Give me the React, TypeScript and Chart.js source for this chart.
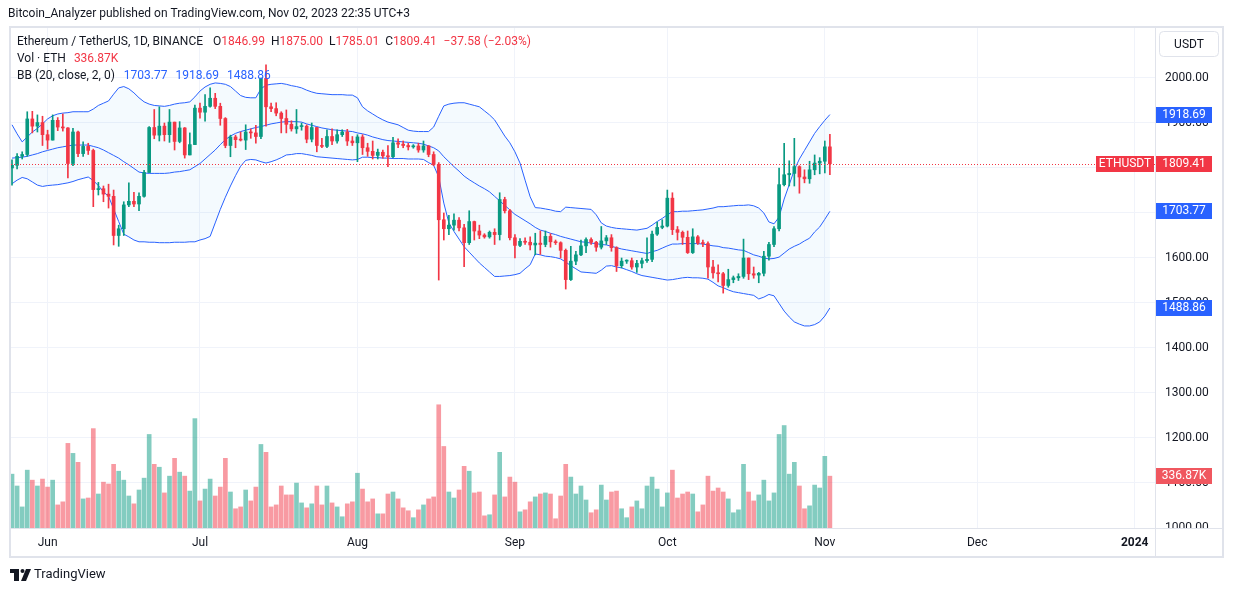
import React, { useEffect, useRef } from 'react';
import { Chart, registerables } from 'chart.js';

Chart.register(...registerables);

// ---------- data (ETH/USDT daily, 2023-05-25 .. 2023-11-02) ----------
const firstDay = '2023-05-25';
const opens = [
  1800, 1806, 1826, 1830, 1909, 1893, 1901, 1874, 1862, 1906,
  1891, 1889, 1810, 1880, 1832, 1848, 1839, 1752, 1754, 1742,
  1737, 1650, 1665, 1718, 1726, 1720, 1737, 1790, 1890, 1873,
  1893, 1874, 1902, 1859, 1889, 1829, 1852, 1933, 1924, 1937,
  1955, 1937, 1910, 1850, 1869, 1863, 1862, 1880, 1878, 1870,
  1999, 1936, 1932, 1922, 1910, 1897, 1887, 1892, 1893, 1864,
  1890, 1850, 1848, 1870, 1860, 1874, 1880, 1860, 1856, 1869,
  1845, 1837, 1828, 1835, 1827, 1825, 1856, 1853, 1850, 1847,
  1849, 1840, 1849, 1830, 1808, 1685, 1665, 1673, 1684, 1667,
  1634, 1681, 1660, 1651, 1647, 1657, 1652, 1730, 1705, 1645,
  1628, 1637, 1635, 1629, 1633, 1630, 1648, 1636, 1634, 1617,
  1552, 1593, 1607, 1627, 1641, 1635, 1624, 1638, 1645, 1623,
  1583, 1593, 1594, 1580, 1588, 1594, 1597, 1653, 1668, 1671,
  1733, 1663, 1657, 1646, 1612, 1647, 1633, 1632, 1580, 1567,
  1565, 1539, 1552, 1556, 1559, 1600, 1565, 1562, 1566, 1604,
  1630, 1665, 1763, 1785, 1788, 1803, 1780, 1776, 1796, 1811,
  1815, 1846.99,
];
const highs = [
  1818, 1832, 1836, 1925, 1926, 1918, 1915, 1884, 1918, 1912,
  1920, 1890, 1888, 1882, 1858, 1855, 1842, 1768, 1760, 1764,
  1751, 1673, 1725, 1767, 1746, 1745, 1795, 1892, 1930, 1936,
  1900, 1930, 1902, 1903, 1890, 1878, 1940, 1944, 1963, 1978,
  1966, 1944, 1912, 1873, 1873, 1880, 1896, 1887, 1895, 2000,
  2029, 1944, 1945, 1925, 1929, 1905, 1930, 1900, 1896, 1900,
  1890, 1866, 1885, 1887, 1885, 1885, 1886, 1870, 1874, 1874,
  1855, 1860, 1842, 1840, 1850, 1868, 1865, 1860, 1855, 1852,
  1855, 1860, 1850, 1836, 1812, 1700, 1695, 1698, 1690, 1675,
  1705, 1682, 1673, 1654, 1660, 1665, 1745, 1735, 1708, 1652,
  1643, 1645, 1647, 1655, 1660, 1660, 1654, 1640, 1636, 1620,
  1626, 1615, 1640, 1645, 1645, 1637, 1670, 1650, 1652, 1625,
  1600, 1596, 1600, 1595, 1600, 1645, 1660, 1680, 1685, 1751,
  1745, 1670, 1660, 1660, 1665, 1650, 1640, 1636, 1595, 1585,
  1568, 1575, 1560, 1565, 1642, 1600, 1580, 1568, 1615, 1635,
  1670, 1800, 1855, 1816, 1866, 1805, 1796, 1815, 1829, 1823,
  1860, 1875.0,
];
const lows = [
  1762, 1798, 1820, 1826, 1878, 1880, 1850, 1842, 1862, 1883,
  1882, 1778, 1805, 1825, 1826, 1830, 1714, 1740, 1725, 1711,
  1629, 1626, 1650, 1714, 1714, 1705, 1735, 1790, 1865, 1860,
  1860, 1857, 1840, 1856, 1822, 1829, 1852, 1911, 1904, 1935,
  1932, 1895, 1845, 1825, 1845, 1860, 1841, 1866, 1855, 1865,
  1893, 1925, 1916, 1878, 1878, 1882, 1877, 1884, 1856, 1858,
  1836, 1845, 1845, 1852, 1855, 1870, 1850, 1850, 1814, 1830,
  1826, 1820, 1820, 1822, 1803, 1823, 1845, 1845, 1840, 1844,
  1835, 1835, 1825, 1805, 1551, 1640, 1652, 1662, 1660, 1581,
  1630, 1640, 1643, 1644, 1644, 1630, 1640, 1700, 1640, 1600,
  1625, 1630, 1618, 1607, 1608, 1625, 1624, 1630, 1600, 1531,
  1550, 1585, 1605, 1612, 1630, 1615, 1620, 1630, 1615, 1570,
  1578, 1588, 1575, 1568, 1578, 1590, 1592, 1650, 1665, 1669,
  1652, 1640, 1630, 1610, 1610, 1630, 1625, 1555, 1555, 1547,
  1522, 1535, 1545, 1550, 1555, 1552, 1555, 1545, 1560, 1595,
  1625, 1660, 1760, 1760, 1760, 1744, 1767, 1766, 1785, 1787,
  1789, 1785.01,
];
const closes = [
  1806, 1826, 1830, 1909, 1893, 1901, 1874, 1862, 1906, 1891,
  1889, 1810, 1880, 1832, 1848, 1839, 1752, 1754, 1742, 1737,
  1650, 1665, 1718, 1726, 1720, 1737, 1790, 1890, 1873, 1893,
  1874, 1902, 1859, 1889, 1829, 1852, 1933, 1924, 1937, 1955,
  1937, 1910, 1850, 1869, 1863, 1862, 1880, 1878, 1870, 1999,
  1936, 1932, 1922, 1910, 1897, 1887, 1892, 1893, 1864, 1890,
  1850, 1848, 1870, 1860, 1874, 1880, 1860, 1856, 1869, 1845,
  1837, 1828, 1835, 1827, 1825, 1856, 1853, 1850, 1847, 1849,
  1840, 1849, 1830, 1808, 1685, 1665, 1673, 1684, 1667, 1634,
  1681, 1660, 1651, 1647, 1657, 1652, 1730, 1705, 1645, 1628,
  1637, 1635, 1629, 1633, 1630, 1648, 1636, 1634, 1617, 1552,
  1593, 1607, 1627, 1641, 1635, 1624, 1638, 1645, 1623, 1583,
  1593, 1594, 1580, 1588, 1594, 1597, 1653, 1668, 1671, 1733,
  1663, 1657, 1646, 1612, 1647, 1633, 1632, 1580, 1567, 1565,
  1539, 1552, 1556, 1559, 1600, 1565, 1562, 1566, 1604, 1630,
  1665, 1763, 1785, 1788, 1803, 1780, 1776, 1796, 1811, 1815,
  1846.99, 1809.41,
];
// volume in thousands of ETH
const volumesK = [
  350, 273, 137, 376, 311, 273, 318, 266, 311, 150,
  170, 550, 485, 427, 189, 195, 646, 221, 298, 286,
  414, 369, 311, 208, 157, 247, 324, 608, 414, 395,
  228, 337, 453, 363, 337, 240, 711, 176, 253, 318,
  208, 266, 453, 234, 125, 137, 247, 176, 266, 543,
  492, 137, 150, 273, 215, 215, 292, 163, 131, 157,
  273, 150, 273, 163, 137, 73, 157, 170, 356, 253,
  170, 189, 92, 92, 221, 234, 189, 131, 112, 67,
  118, 150, 189, 202, 801, 530, 234, 195, 247, 401,
  369, 228, 234, 79, 86, 215, 492, 202, 331, 298,
  105, 118, 170, 202, 221, 228, 221, 60, 208, 414,
  331, 221, 273, 182, 99, 118, 279, 182, 234, 240,
  125, 67, 137, 176, 125, 273, 331, 253, 137, 228,
  376, 195, 221, 234, 221, 105, 150, 337, 240, 260,
  234, 189, 99, 118, 414, 234, 176, 215, 311, 176,
  228, 608, 666, 350, 427, 273, 125, 144, 279, 260,
  466, 336.87,
];
// Bollinger Bands (20, close, 2, 0)
const bbUpper = [
  1896, 1876, 1858, 1869, 1880, 1888, 1898, 1909, 1916, 1920,
  1922, 1923, 1925, 1925, 1925, 1925, 1931, 1939, 1944, 1949,
  1964, 1978, 1981, 1976, 1967, 1956, 1947, 1942, 1939, 1938,
  1937, 1939, 1942, 1944, 1945, 1947, 1958, 1971, 1980, 1986,
  1989, 1988, 1986, 1981, 1971, 1961, 1957, 1956, 1956, 1976,
  1984, 1986, 1987, 1988, 1986, 1983, 1981, 1978, 1973, 1969,
  1966, 1965, 1964, 1963, 1963, 1963, 1962, 1962, 1956, 1936,
  1927, 1920, 1913, 1907, 1902, 1899, 1896, 1890, 1884, 1882,
  1881, 1881, 1881, 1891, 1915, 1938, 1942, 1944, 1945, 1945,
  1942, 1939, 1936, 1927, 1918, 1907, 1889, 1871, 1856, 1836,
  1811, 1773, 1736, 1712, 1711, 1709, 1707, 1704, 1703, 1713,
  1712, 1711, 1710, 1709, 1708, 1696, 1678, 1671, 1668, 1666,
  1665, 1664, 1663, 1662, 1664, 1666, 1673, 1681, 1688, 1696,
  1703, 1703, 1704, 1704, 1705, 1706, 1707, 1709, 1711, 1714,
  1714, 1715, 1716, 1717, 1717, 1718, 1716, 1711, 1700, 1680,
  1676, 1691, 1731, 1763, 1796, 1820, 1839, 1858, 1877, 1892,
  1906, 1918.69,
];
const bbBasis = [
  1822, 1823, 1824, 1826, 1829, 1832, 1836, 1839, 1842, 1845,
  1847, 1849, 1851, 1851, 1851, 1851, 1848, 1845, 1840, 1834,
  1828, 1822, 1814, 1807, 1799, 1791, 1789, 1788, 1788, 1788,
  1788, 1789, 1791, 1792, 1794, 1796, 1803, 1810, 1820, 1830,
  1840, 1852, 1863, 1871, 1877, 1881, 1884, 1887, 1890, 1892,
  1895, 1898, 1900, 1902, 1903, 1903, 1903, 1902, 1898, 1895,
  1892, 1889, 1887, 1885, 1884, 1883, 1882, 1881, 1878, 1876,
  1873, 1869, 1866, 1863, 1861, 1860, 1859, 1858, 1857, 1856,
  1855, 1853, 1849, 1845, 1838, 1825, 1814, 1803, 1793, 1782,
  1774, 1767, 1760, 1754, 1747, 1737, 1727, 1717, 1707, 1697,
  1690, 1683, 1676, 1668, 1662, 1659, 1655, 1652, 1648, 1645,
  1642, 1639, 1636, 1635, 1633, 1632, 1630, 1629, 1626, 1623,
  1620, 1618, 1616, 1614, 1612, 1610, 1614, 1617, 1622, 1627,
  1631, 1631, 1632, 1632, 1632, 1632, 1631, 1629, 1627, 1626,
  1623, 1622, 1620, 1618, 1617, 1612, 1607, 1604, 1600, 1598,
  1599, 1602, 1611, 1620, 1626, 1631, 1638, 1644, 1658, 1669,
  1686, 1703.77,
];
const bbLower = [
  1765, 1773, 1779, 1776, 1769, 1762, 1759, 1761, 1762, 1763,
  1765, 1767, 1770, 1774, 1777, 1780, 1772, 1761, 1747, 1737,
  1709, 1681, 1653, 1647, 1640, 1636, 1636, 1635, 1635, 1634,
  1634, 1634, 1635, 1635, 1635, 1636, 1636, 1640, 1643, 1648,
  1678, 1708, 1735, 1760, 1783, 1804, 1817, 1819, 1818, 1814,
  1811, 1814, 1818, 1823, 1829, 1830, 1832, 1832, 1830, 1828,
  1825, 1824, 1823, 1822, 1821, 1820, 1819, 1818, 1819, 1824,
  1824, 1823, 1823, 1822, 1822, 1821, 1821, 1821, 1820, 1820,
  1820, 1819, 1812, 1806, 1780, 1722, 1678, 1659, 1642, 1625,
  1613, 1601, 1589, 1579, 1569, 1559, 1559, 1560, 1561, 1563,
  1566, 1576, 1585, 1609, 1607, 1604, 1603, 1601, 1598, 1591,
  1583, 1576, 1569, 1568, 1567, 1566, 1573, 1582, 1583, 1580,
  1578, 1574, 1570, 1565, 1561, 1559, 1557, 1555, 1553, 1551,
  1552, 1554, 1556, 1557, 1556, 1556, 1555, 1553, 1546, 1538,
  1534, 1529, 1525, 1523, 1521, 1519, 1517, 1509, 1513, 1519,
  1516, 1499, 1482, 1469, 1458, 1453, 1449, 1449, 1452, 1458,
  1471, 1488.86,
];
const priceTicks = [1000, 1100, 1200, 1300, 1400, 1500, 1600, 1700, 1800, 1900, 2000];
// day offsets from firstDay of month starts
const monthTickDays = [7, 37, 68, 99, 129, 160, 190, 221];
const monthTickLabels = ['Jun', 'Jul', 'Aug', 'Sep', 'Oct', 'Nov', 'Dec', '2024'];
const headerText = 'Bitcoin_Analyzer published on TradingView.com, Nov 02, 2023 22:35 UTC+3';
const symbolTitle = 'Ethereum / TetherUS, 1D, BINANCE';
const symbolShort = 'ETHUSDT';
const volumeTitle = 'Vol · ETH';
const bbTitle = 'BB (20, close, 2, 0)';
const currency = 'USDT';

// ---------- styles ----------
const FONT = 'Roboto, "Noto Sans", "Liberation Sans", Arial, sans-serif';
const UP = '#089981';
const DOWN = '#F23645';
const UP_VOL = 'rgba(8, 153, 129, 0.5)';
const DOWN_VOL = 'rgba(242, 54, 69, 0.5)';
const BB_BLUE = '#2962FF';
const TEXT = '#131722';
const GRID = '#f0f3fa';
const FRAME = '#e0e3eb';

const fmt2 = (v: number) => v.toFixed(2).replace('-', '\u2212');

const overlayPlugin = {
  id: 'tvOverlay',
  beforeDraw(chart: any) {
    const ctx = chart.ctx;
    ctx.save();
    ctx.fillStyle = '#ffffff';
    ctx.fillRect(0, 0, chart.width, chart.height);
    ctx.restore();
  },
  afterDatasetsDraw(chart: any) {
    const ctx = chart.ctx;
    const y = chart.scales.y;
    const area = chart.chartArea;
    const n = closes.length - 1;
    const py = Math.round(y.getPixelForValue(closes[n])) + 0.5;
    ctx.save();
    ctx.strokeStyle = DOWN;
    ctx.lineWidth = 1;
    ctx.setLineDash([1, 2]);
    ctx.beginPath();
    ctx.moveTo(area.left, py);
    ctx.lineTo(area.right, py);
    ctx.stroke();
    ctx.restore();
  },
  afterDraw(chart: any) {
    const ctx = chart.ctx;
    const ys = chart.scales.y;
    const vs = chart.scales.vol;
    const area = chart.chartArea;
    const n = closes.length - 1;
    ctx.save();

    // cover lower half of bottom price tick (clipped by time axis)
    ctx.fillStyle = '#ffffff';
    ctx.fillRect(area.right + 1, area.bottom + 1, 70, 30);

    // frame
    ctx.fillStyle = FRAME;
    ctx.fillRect(9, 26, 1215, 2);
    ctx.fillRect(9, 556, 1215, 2);
    ctx.fillRect(9, 26, 2, 532);
    ctx.fillRect(1222, 26, 2, 532);
    ctx.fillRect(area.right, 28, 1, 528);
    ctx.fillRect(11, area.bottom, 1211, 1);

    // header
    ctx.textBaseline = 'middle';
    ctx.textAlign = 'left';
    ctx.fillStyle = TEXT;
    ctx.font = `12px ${FONT}`;
    ctx.fillText(headerText, 8, 14);

    // legend
    const drawSegs = (x: number, yy: number, segs: Array<[string, string, number]>) => {
      for (const [t, c, gap] of segs) {
        ctx.fillStyle = c;
        ctx.fillText(t, x, yy);
        x += ctx.measureText(t).width + gap;
      }
    };
    ctx.font = `12px ${FONT}`;
    const chg = closes[n] - opens[n];
    const pct = (chg / opens[n]) * 100;
    const lastColor = chg >= 0 ? UP : DOWN;
    drawSegs(17, 42, [
      [symbolTitle, TEXT, 10],
      ['O', TEXT, 0], [fmt2(opens[n]), lastColor, 6],
      ['H', TEXT, 0], [fmt2(highs[n]), lastColor, 6],
      ['L', TEXT, 0], [fmt2(lows[n]), lastColor, 6],
      ['C', TEXT, 0], [fmt2(closes[n]), lastColor, 7],
      [`${fmt2(chg)} (${fmt2(pct)}%)`, lastColor, 0],
    ]);
    drawSegs(17, 59, [
      [volumeTitle, TEXT, 8],
      [`${volumesK[n].toFixed(2)}K`, lastColor, 0],
    ]);
    drawSegs(17, 76, [
      [bbTitle, TEXT, 9],
      [fmt2(bbBasis[n]), BB_BLUE, 8],
      [fmt2(bbUpper[n]), BB_BLUE, 8],
      [fmt2(bbLower[n]), BB_BLUE, 0],
    ]);

    // price-scale labels
    const box = (x: number, cy: number, w: number, color: string, text: string) => {
      ctx.fillStyle = color;
      ctx.fillRect(x, Math.round(cy) - 8, w, 16);
      ctx.fillStyle = '#ffffff';
      ctx.textAlign = 'center';
      ctx.fillText(text, x + w / 2, Math.round(cy));
      ctx.textAlign = 'left';
    };
    ctx.font = `12px ${FONT}`;
    const axX = area.right + 1;
    box(axX, ys.getPixelForValue(bbUpper[n]), 56, BB_BLUE, fmt2(bbUpper[n]));
    box(axX, ys.getPixelForValue(bbBasis[n]), 56, BB_BLUE, fmt2(bbBasis[n]));
    box(axX, ys.getPixelForValue(bbLower[n]), 56, BB_BLUE, fmt2(bbLower[n]));
    box(axX, vs.getPixelForValue(volumesK[n]), 56, '#f0575f', `${volumesK[n].toFixed(2)}K`);
    const cy = ys.getPixelForValue(closes[n]);
    box(axX, cy, 56, lastColor, fmt2(closes[n]));
    box(area.right - 59, cy, 58, lastColor, symbolShort);

    // currency button
    ctx.strokeStyle = FRAME;
    ctx.lineWidth = 1;
    ctx.beginPath();
    (ctx as any).roundRect(1159.5, 31.5, 59, 25, 4);
    ctx.stroke();
    ctx.fillStyle = TEXT;
    ctx.textAlign = 'center';
    ctx.fillText(currency, 1189, 44.5);
    ctx.textAlign = 'left';

    // TradingView logo
    ctx.fillStyle = TEXT;
    ctx.fillRect(10, 569, 9, 4);
    ctx.fillRect(14, 569, 5, 12);
    ctx.beginPath();
    ctx.arc(22.5, 571, 2, 0, Math.PI * 2);
    ctx.fill();
    ctx.beginPath();
    ctx.moveTo(26, 569);
    ctx.lineTo(31, 569);
    ctx.lineTo(26, 581);
    ctx.lineTo(21, 581);
    ctx.closePath();
    ctx.fill();
    ctx.font = `13px ${FONT}`;
    ctx.fillText('TradingView', 34, 575);

    ctx.restore();
  },
};

export default function App() {
  const ref = useRef<HTMLCanvasElement | null>(null);

  useEffect(() => {
    if (!ref.current) return;
    const idx = closes.map((_, i) => i);
    const up = idx.map((i) => closes[i] >= opens[i]);
    const candleColors = up.map((u) => (u ? UP : DOWN));
    const volColors = up.map((u) => (u ? UP_VOL : DOWN_VOL));

    const chart = new Chart(ref.current, {
      type: 'bar',
      data: {
        datasets: [
          {
            type: 'bar',
            label: 'body',
            data: idx.map((i) => ({ x: i, y: [opens[i], closes[i]] })),
            backgroundColor: candleColors,
            barThickness: 3,
            grouped: false,
            minBarLength: 1,
            borderWidth: 0,
            borderSkipped: false,
            yAxisID: 'y',
            order: 0,
          } as any,
          {
            type: 'bar',
            label: 'wick',
            data: idx.map((i) => ({ x: i, y: [lows[i], highs[i]] })),
            backgroundColor: candleColors,
            barThickness: 1,
            grouped: false,
            borderWidth: 0,
            borderSkipped: false,
            yAxisID: 'y',
            order: 1,
          } as any,
          {
            type: 'line',
            label: 'upper',
            data: idx.map((i) => ({ x: i, y: bbUpper[i] })),
            borderColor: BB_BLUE,
            borderWidth: 1,
            pointRadius: 0,
            tension: 0,
            fill: false,
            yAxisID: 'y',
            order: 2,
          } as any,
          {
            type: 'line',
            label: 'basis',
            data: idx.map((i) => ({ x: i, y: bbBasis[i] })),
            borderColor: BB_BLUE,
            borderWidth: 1,
            pointRadius: 0,
            tension: 0,
            fill: false,
            yAxisID: 'y',
            order: 2,
          } as any,
          {
            type: 'line',
            label: 'lower',
            data: idx.map((i) => ({ x: i, y: bbLower[i] })),
            borderColor: BB_BLUE,
            borderWidth: 1,
            pointRadius: 0,
            tension: 0,
            fill: '-2',
            backgroundColor: 'rgba(33, 150, 243, 0.05)',
            yAxisID: 'y',
            order: 2,
          } as any,
          {
            type: 'bar',
            label: 'volume',
            data: idx.map((i) => ({ x: i, y: volumesK[i] })),
            backgroundColor: volColors,
            barThickness: 4,
            grouped: false,
            borderWidth: 0,
            yAxisID: 'vol',
            order: 3,
          } as any,
        ],
      },
      options: {
        responsive: false,
        animation: false,
        devicePixelRatio: 1,
        events: [],
        layout: { padding: { left: 11, top: 28, right: 11, bottom: 36 } },
        plugins: { legend: { display: false }, tooltip: { enabled: false } },
        scales: {
          x: {
            type: 'linear',
            position: 'bottom',
            min: -0.2,
            max: 225,
            offset: false,
            grid: { color: GRID, drawTicks: false, offset: false },
            border: { display: false },
            afterBuildTicks: (s: any) => {
              s.ticks = monthTickDays.map((v) => ({ value: v }));
            },
            afterFit: (s: any) => {
              s.height = 28;
              s.paddingLeft = 0;
              s.paddingRight = 0;
            },
            ticks: {
              autoSkip: false,
              maxRotation: 0,
              padding: 8,
              color: TEXT,
              font: (c: any) => ({
                family: FONT,
                size: 12,
                weight: c.index === monthTickLabels.length - 1 ? 'bold' : 'normal',
              }),
              callback: (_v: any, i: number) => monthTickLabels[i],
            },
          },
          y: {
            type: 'linear',
            position: 'right',
            min: 1000,
            max: 2111.11,
            grid: { color: GRID, drawTicks: false },
            border: { display: false },
            afterBuildTicks: (s: any) => {
              s.ticks = priceTicks.map((v) => ({ value: v }));
            },
            afterFit: (s: any) => {
              s.width = 67;
              s.paddingTop = 0;
              s.paddingBottom = 0;
            },
            ticks: {
              padding: 10,
              color: TEXT,
              font: { family: FONT, size: 12 },
              callback: (v: any) => Number(v).toFixed(2),
            },
          },
          vol: {
            type: 'linear',
            display: false,
            position: 'left',
            min: 0,
            max: 3250,
          },
        },
      } as any,
      plugins: [overlayPlugin],
    });
    return () => chart.destroy();
  }, []);

  return (
    <div style={{ position: 'fixed', left: 0, top: 0, width: 1233, height: 592, background: '#fff' }}>
      <canvas ref={ref} width={1233} height={592} style={{ display: 'block' }} data-first-day={firstDay} />
    </div>
  );
}
